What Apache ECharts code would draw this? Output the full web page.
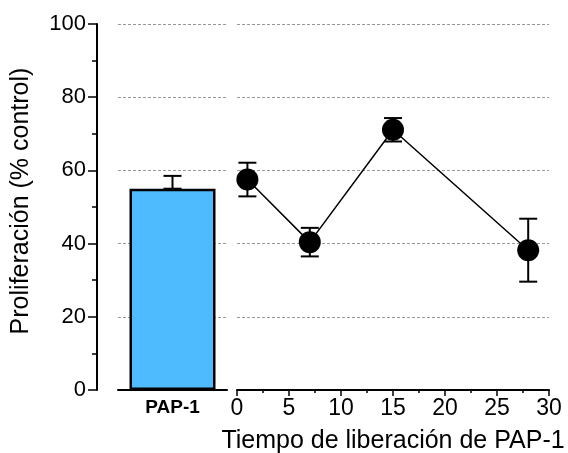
<!DOCTYPE html>
<html>
<head>
<meta charset="utf-8">
<script src="https://cdn.jsdelivr.net/npm/echarts@6/dist/echarts.min.js"></script>
<style>
  html, body { margin: 0; padding: 0; background: #fff; }
  #chart { width: 568px; height: 453px; }
</style>
</head>
<body>
<div id="chart"></div>
<script>
// barra del control
const barCategories = ['PAP-1']
const barValues = [55]
const barErrors = [3.5]

// curva temporal
const timePoints = [1, 7, 15, 28]
const timeValues = [57.5, 40.4, 71.1, 38.2]
const timeErrors = [4.6, 3.9, 3.2, 8.6]

const FONT = '"Liberation Sans", Arial, sans-serif'
const chart = echarts.init(document.getElementById('chart'))

// error bar con tapas, dibujado con api.coord
function errorBarItem(capHalf) {
  return function (params, api) {
    const x = api.value(0)
    const top = api.coord([x, api.value(1)])
    const bot = api.coord([x, api.value(2)])
    const style = { stroke: '#000', lineWidth: 2 }
    return {
      type: 'group',
      children: [
        { type: 'line', shape: { x1: top[0], y1: top[1], x2: bot[0], y2: bot[1] }, style },
        { type: 'line', shape: { x1: top[0] - capHalf, y1: top[1], x2: top[0] + capHalf, y2: top[1] }, style },
        { type: 'line', shape: { x1: bot[0] - capHalf, y1: bot[1], x2: bot[0] + capHalf, y2: bot[1] }, style }
      ]
    }
  }
}

const splitLine = { show: true, lineStyle: { color: '#999', type: [3, 2], width: 1 } }

const option = {
  animation: false,
  textStyle: { fontFamily: FONT },
  grid: [
    { left: 118, width: 109, top: 24, bottom: 63, outerBoundsMode: 'none', containLabel: false },
    { left: 237, right: 19, top: 24, bottom: 63, outerBoundsMode: 'none', containLabel: false }
  ],
  xAxis: [
    {
      gridIndex: 0,
      type: 'category',
      data: barCategories,
      axisLine: { lineStyle: { color: '#000', width: 2 } },
      axisTick: { alignWithLabel: true, length: 3, lineStyle: { color: '#000', width: 1 } },
      axisLabel: { color: '#000', fontWeight: 'bold', fontSize: 19, margin: 8, fontFamily: FONT }
    },
    {
      gridIndex: 1,
      type: 'value',
      min: 0,
      max: 30,
      interval: 5,
      name: 'Tiempo de liberación de PAP-1',
      nameLocation: 'middle',
      nameGap: 39,
      nameTextStyle: { color: '#000', fontSize: 25, fontFamily: FONT },
      axisLine: { show: true, lineStyle: { color: '#000', width: 2 } },
      axisTick: { show: true, length: 6, lineStyle: { color: '#000', width: 1.5 } },
      minorTick: { show: true, splitNumber: 2, length: 3, lineStyle: { color: '#000', width: 1.5 } },
      axisLabel: { color: '#000', fontSize: 23, margin: 7, fontFamily: FONT },
      splitLine: { show: false }
    }
  ],
  yAxis: [
    {
      gridIndex: 0,
      type: 'value',
      min: 0,
      max: 100,
      interval: 20,
      offset: 21,
      name: 'Proliferación (% control)',
      nameLocation: 'middle',
      nameGap: 63,
      nameTextStyle: { color: '#000', fontSize: 25, fontFamily: FONT, padding: [0, 0, 0, 12] },
      axisLine: { show: true, lineStyle: { color: '#000', width: 2 } },
      axisTick: { show: true, length: 9, lineStyle: { color: '#000', width: 1.5 } },
      minorTick: { show: true, splitNumber: 2, length: 5, lineStyle: { color: '#000', width: 1.5 } },
      axisLabel: { color: '#000', fontSize: 22, margin: 11, fontFamily: FONT },
      splitLine: splitLine
    },
    {
      gridIndex: 1,
      type: 'value',
      min: 0,
      max: 100,
      interval: 20,
      axisLine: { show: false },
      axisTick: { show: false },
      axisLabel: { show: false },
      splitLine: splitLine
    }
  ],
  series: [
    {
      type: 'bar',
      xAxisIndex: 0,
      yAxisIndex: 0,
      data: barValues,
      barWidth: 86,
      itemStyle: { color: '#4fbbff', borderColor: '#000', borderWidth: 2.5 },
      z: 2
    },
    {
      type: 'custom',
      xAxisIndex: 0,
      yAxisIndex: 0,
      renderItem: errorBarItem(9),
      data: barCategories.map((c, i) => [i, barValues[i] + barErrors[i], barValues[i]]),
      z: 1
    },
    {
      type: 'custom',
      xAxisIndex: 1,
      yAxisIndex: 1,
      renderItem: errorBarItem(9),
      data: timePoints.map((t, i) => [t, timeValues[i] + timeErrors[i], timeValues[i] - timeErrors[i]]),
      z: 2
    },
    {
      type: 'line',
      xAxisIndex: 1,
      yAxisIndex: 1,
      data: timePoints.map((t, i) => [t, timeValues[i]]),
      symbol: 'circle',
      symbolSize: 22,
      itemStyle: { color: '#000' },
      lineStyle: { color: '#000', width: 1.5 },
      z: 3
    }
  ]
}

chart.setOption(option)
</script>
</body>
</html>
